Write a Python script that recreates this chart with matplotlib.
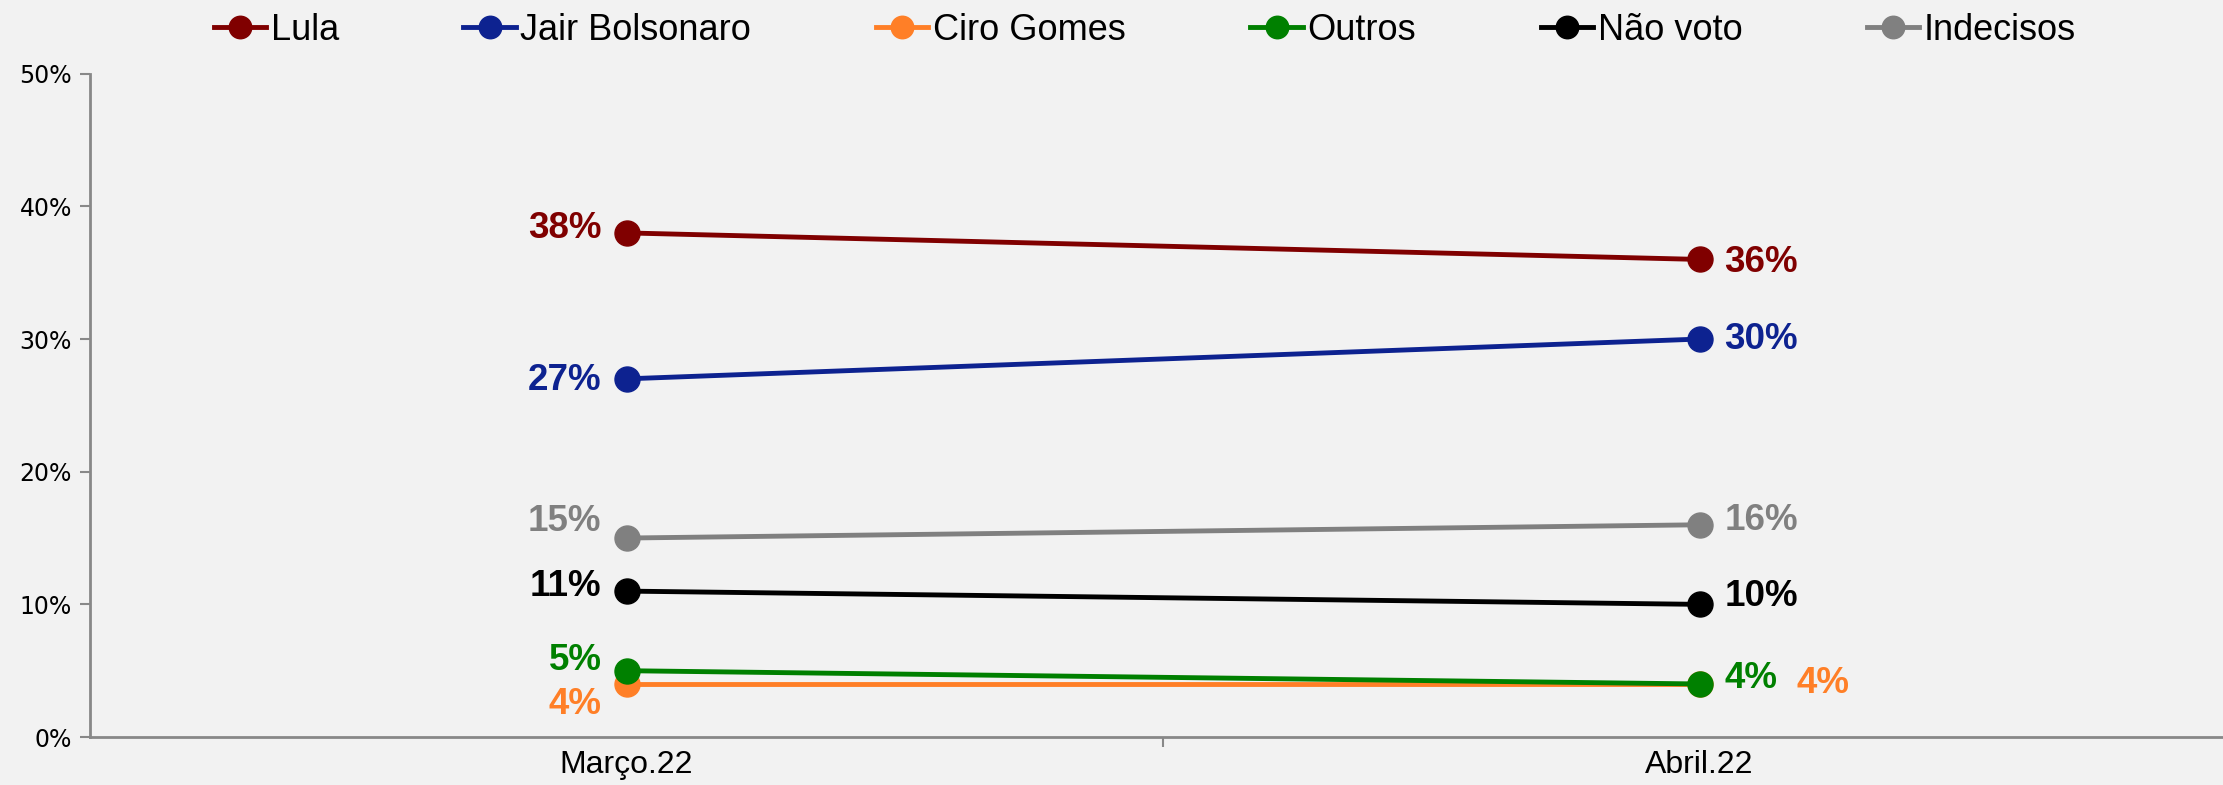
import matplotlib.pyplot as plt
from matplotlib.ticker import FixedLocator

# dados
meses = ['Março.22', 'Abril.22']
lula = [38, 36]
bolsonaro = [27, 30]
ciro = [4, 4]
outros = [5, 4]
nao_voto = [11, 10]
indecisos = [15, 16]

series = [
    ('Lula', lula, '#800000'),
    ('Jair Bolsonaro', bolsonaro, '#0D2290'),
    ('Ciro Gomes', ciro, '#FF7F27'),
    ('Outros', outros, '#008000'),
    ('Não voto', nao_voto, '#000000'),
    ('Indecisos', indecisos, '#808080'),
]

# deslocamento dos rótulos (pontos): (dx0, dy0, dx1, dy1)
offsets = {
    'Lula': (-18, 3, 18, -2),
    'Jair Bolsonaro': (-18, -1, 18, 0),
    'Ciro Gomes': (-18, -15, 70, 0),
    'Outros': (-18, 7, 18, 4),
    'Não voto': (-18, 3, 18, 6),
    'Indecisos': (-18, 12, 18, 3),
}

bg = '#F2F2F2'
fonte = ['Liberation Sans', 'DejaVu Sans']

fig = plt.figure(figsize=(22.23, 7.85), dpi=100, facecolor=bg)
ax = fig.add_axes([0.0405, 0.0611, 0.9654, 0.845])
ax.set_facecolor(bg)

x = list(range(len(meses)))
# ordem de desenho: Outros por cima de Ciro
order = ['Lula', 'Jair Bolsonaro', 'Indecisos', 'Não voto', 'Ciro Gomes', 'Outros']
handles = {}
for name, vals, color in series:
    z = 3 + order.index(name)
    ln, = ax.plot(x, vals, color=color, lw=3.5, marker='o', ms=18,
                  label=name, zorder=z, clip_on=False)
    handles[name] = ln
    dx0, dy0, dx1, dy1 = offsets[name]
    ax.annotate(f'{vals[0]}%', (x[0], vals[0]), xytext=(dx0, dy0),
                textcoords='offset points', ha='right', va='center',
                fontsize=26.5, fontweight='bold', color=color, family=fonte)
    ax.annotate(f'{vals[1]}%', (x[1], vals[1]), xytext=(dx1, dy1),
                textcoords='offset points', ha='left', va='center',
                fontsize=26.5, fontweight='bold', color=color, family=fonte)

ax.set_xlim(-0.5, 1.5)
ax.set_ylim(0, 50)
ax.set_yticks(range(0, 51, 10))
ax.set_yticklabels([f'{v}%' for v in range(0, 51, 10)], fontsize=17,
                   family='DejaVu Sans')
ax.set_xticks(x)
ax.set_xticklabels(meses, fontsize=23, family=fonte)
ax.xaxis.set_minor_locator(FixedLocator([0.5]))
ax.tick_params(axis='x', which='major', length=0, pad=9)
ax.tick_params(axis='x', which='minor', length=7, width=1.5, color='#888888')
ax.tick_params(axis='y', length=7, width=1.5, color='#888888', pad=6)

for s in ['top', 'right']:
    ax.spines[s].set_visible(False)
for s in ['left', 'bottom']:
    ax.spines[s].set_color('#888888')
    ax.spines[s].set_linewidth(2)

leg = fig.legend([handles[n] for n, _, _ in series], [n for n, _, _ in series],
                 loc='center', bbox_to_anchor=(0.515, 0.961), ncol=6,
                 frameon=False, handlelength=1.45, handletextpad=0.13,
                 columnspacing=3.45, markerscale=0.9,
                 prop={'family': fonte, 'size': 26})

fig.savefig('out.png', dpi=100, facecolor=bg)
